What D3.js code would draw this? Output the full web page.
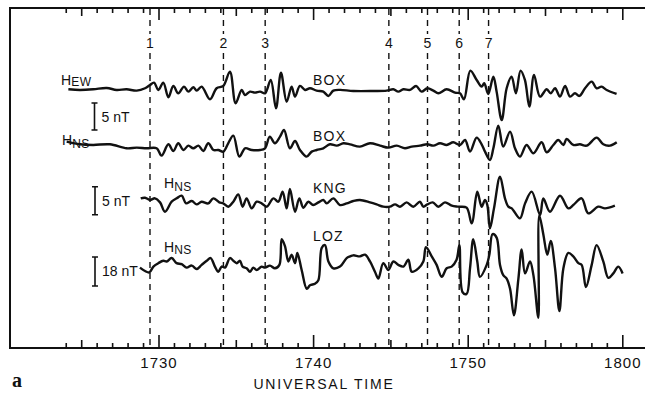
<!DOCTYPE html>
<html>
<head>
<meta charset="utf-8">
<script src="https://cdn.jsdelivr.net/npm/d3@7"></script>
<style>
  body { margin: 0; background: #fff; }
  svg { display: block; font-family: "Liberation Sans", Arial, sans-serif; }
  .trace { fill: none; stroke: #111; stroke-width: 2.4; stroke-linejoin: round; }
  .lbl { font-size: 14px; fill: #111; }
</style>
</head>
<body>
<div id="chart"></div>
<script>
// time in minutes after 17:00 UT, values in nT relative to each trace's baseline
var hewBoxT = [24.17,24.92,25.78,26.65,27.29,27.94,28.59,29.13,29.45,29.71,29.99,30.31,30.64,30.96,31.28,31.65,31.93,32.25,32.47,32.79,
  33.33,33.76,34.19,34.62,34.99,35.38,35.59,35.92,36.24,36.57,36.89,37.26,37.6,37.92,38.29,38.61,38.83,39.15,39.48,39.8,
  40.23,40.66,40.99,41.31,41.74,42.6,43.9,44.76,45.19,45.51,45.84,46.27,46.66,47.02,47.39,47.78,48.1,48.64,49.18,49.5,
  49.76,50.17,50.58,50.9,51.07,51.33,51.66,51.87,52.2,52.52,52.84,53.12,53.42,53.7,53.99,54.29,54.68,55.11,55.37,55.65,
  55.97,56.3,56.62,56.94,57.22,57.59,58.02,58.34,58.66,58.99,59.63];
var hewBoxV = [0,-0.12,0,0.25,-0.12,0,-0.25,0.19,0.8,1.23,-0.12,1.23,-1.48,0.62,-0.74,0.49,-0.43,0.37,-0.25,0.49,
  -1.85,0.19,0.62,3.27,-2.59,-0.12,-1.05,-0.43,-0.62,-0.43,-0.74,1.73,-3.52,3.09,-2.28,0.49,-1.36,0.62,-0.12,0.19,
  -0.25,-0.43,-1.23,-0.25,-0.1,-0.31,-0.31,-0.25,0,-0.43,0,-0.12,0.62,-0.43,0.19,-0.25,-0.74,0,-0.62,-0.74,
  -1.85,3.46,1.73,0.49,1.11,-0.86,2.35,-0.43,-5.68,0.19,2.35,-0.74,3.46,1.73,-3.21,2.65,-1.36,0,-0.74,0.19,
  -1.36,0.62,-1.36,-0.74,-1.23,0.19,1.42,0.19,0.49,-0.12,-0.86];

var hnsBoxT = [24.06,24.92,25.78,26.86,27.94,28.59,29.23,29.88,30.2,30.64,30.96,31.28,31.61,31.93,32.25,32.58,32.9,33.22,33.55,33.87,
  34.19,34.51,34.84,35.23,35.6,36.03,36.57,36.89,37.2,37.53,37.86,38.12,38.5,38.83,39.15,39.58,39.91,40.23,40.66,41.09,
  41.53,41.96,42.39,43.03,43.68,44.33,44.87,45.41,45.94,46.38,46.91,47.39,47.78,48.21,48.64,49.07,49.5,49.83,50.15,50.58,
  50.9,51.12,51.44,51.66,51.98,52.3,52.74,53.06,53.38,53.81,54.25,54.78,55.11,55.54,55.86,56.19,56.4,56.83,57.26,57.7,
  58.34,58.77,59.21,59.64];
var hnsBoxV = [1.23,0.74,0.62,0.74,0,0.12,0,0,-1.36,0.74,-0.49,0.93,-0.31,0.49,0,0.49,-0.49,0.93,-0.31,-0.31,
  -0.62,0.93,2.35,-1.54,0,-0.31,-0.31,0,2.16,0.93,2.16,3.4,0,1.36,-0.31,-1.54,-0.62,-0.31,0,0.74,
  0.49,0.93,0.74,0.31,0.93,0.49,0.12,0.49,0,0.31,0.49,0.74,0.49,0.93,0.62,1.11,0.62,1.54,-0.62,1.98,
  0.74,-0.62,-2.16,0,4.2,0.31,3.09,0,-1.54,0.62,-0.93,1.11,-0.74,0.62,1.54,0.62,1.73,0.62,0.74,0.49,
  1.98,0.74,0.49,1.11];

var hnsKngT = [28.85,29.13,29.45,29.77,30.1,30.42,30.85,31.18,31.5,31.78,32.15,32.47,32.79,33.22,33.55,33.93,34.19,34.51,34.84,35.16,
  35.44,35.7,36.03,36.35,36.67,37,37.43,37.75,38.03,38.29,38.5,38.83,39.11,39.37,39.69,40.01,40.34,40.66,40.88,41.31,
  41.74,42.17,42.6,43.03,43.68,44.11,44.54,44.97,45.3,45.62,46.05,46.48,46.91,47.13,47.39,47.74,48.1,48.53,48.97,49.4,
  49.93,50.26,50.62,50.9,51.12,51.27,51.44,51.7,52.09,52.41,52.63,52.85,53.38,53.71,54.14,54.68,54.89,55.32,55.97,56.51,
  56.83,57.37,57.8,58.45,58.88,59.52];
var hnsKngV = [0.6,0.71,0.3,0.6,-0.12,-1.79,0,0.6,1.07,-0.3,0.12,-0.48,0,-0.3,0.6,-0.12,-0.3,-0.89,0,1.31,
  -0.89,0.6,-1.19,0,-0.3,-0.89,0.6,0,1.79,-1.19,2.26,-1.79,0.6,-1.07,0,-0.6,-0.12,0.3,-0.3,0.6,
  -0.6,-0.3,0.12,0.3,-0.12,-0.48,-0.89,-0.89,-0.48,-0.89,-0.12,-0.89,0,-0.89,-0.48,-0.12,-0.89,-0.12,-0.71,-0.89,
  -1.07,-3.87,1.79,-0.89,0.3,-0.6,-4.76,-1.19,4.46,0.6,-0.89,-1.19,-2.98,-0.3,1.79,-2.38,0.6,-1.79,1.07,-1.19,
  -0.6,0.6,-2.08,-0.89,-1.19,-0.71];

var hnsLozT = [28.8,29.13,29.41,29.67,29.99,30.31,30.53,30.85,31.17,31.5,31.82,32.15,32.47,32.79,33.12,33.37,33.65,33.87,34.09,34.3,
  34.62,34.84,35.06,35.27,35.44,35.7,35.92,36.13,36.35,36.67,36.89,37.21,37.53,37.82,37.97,38.18,38.4,38.61,38.83,38.98,
  39.26,39.59,39.8,40.12,40.34,40.56,40.77,40.99,41.31,41.74,42.17,42.39,42.6,43.03,43.36,43.68,44,44.22,44.54,44.87,
  45.19,45.51,45.84,46.16,46.38,46.81,47.13,47.3,47.67,47.99,48.32,48.64,48.96,49.28,49.46,49.67,49.93,50.15,50.36,50.62,
  50.79,51.23,51.4,51.61,51.87,52.09,52.3,52.52,52.74,52.99,53.28,53.49,53.71,54.03,54.25,54.57,54.63,54.89,55.15,55.37,
  55.65,55.93,56.19,56.51,56.83,57.16,57.37,57.65,58.02,58.34,58.77,59.1,59.42,59.74,60.02];
var hnsLozV = [0.42,-1.69,-2.54,1.06,3.18,4.66,4.24,6.36,3.18,2.54,0.42,1.69,-0.42,2.12,4.66,6.36,1.06,-2.12,1.06,0.42,
  6.36,4.66,3.18,4.66,1.06,0,-2.12,0.42,-1.06,1.06,0.42,1.69,0,2.12,18.01,13.77,4.24,8.47,3.18,9.53,
  -1.06,-12.71,-10.59,-9.53,-7.42,12.71,14.41,4.24,0,1.06,6.36,7.42,8.05,7.42,8.47,4.24,-2.12,-6.36,3.18,-1.06,
  4.24,2.12,1.06,5.3,-2.12,0,4.24,13.14,7.42,2.12,-5.3,0,1.06,5.3,14.41,-14.83,-15.89,0,18.01,4.24,
  -5.3,2.12,8.47,21.19,19.07,2.12,-4.24,-6.36,-12.71,-29.24,-6.36,11.65,-3.18,4.24,-4.24,-30.72,32.84,21.19,8.47,16.95,
  0,-26.48,0,9.53,7.42,3.18,2.12,-11.65,2.12,14.41,4.24,-5.93,-3.18,1.06,-3.18];

// marked events (minutes after 17:00)
var eventTimes = [29.45, 34.2, 36.9, 44.9, 47.4, 49.45, 51.35];
var eventLabels = ["1", "2", "3", "4", "5", "6", "7"];
var majorTicks = [30, 40, 50, 60];

var width = 645, height = 394;
var frame = {left: 10, top: 8, bottom: 348, right: 652};

var svg = d3.select("#chart").append("svg")
    .attr("width", width)
    .attr("height", height);

svg.append("rect").attr("width", width).attr("height", height).attr("fill", "#fff");

var x = d3.scaleLinear()
    .domain([30, 60])
    .range([158.5, 622.3]);

var fmt = function(m) {
  var h = 17 + Math.floor(m / 60), mm = m % 60;
  return "" + h + (mm < 10 ? "0" : "") + mm;
};

// one y scale per trace (5 nT bars for BOX and KNG, 18 nT for LOZ)
var yHew = d3.scaleLinear().domain([0, 5]).range([89.3, 62.3]);
var yHnsBox = d3.scaleLinear().domain([0, 5]).range([148.3, 121.3]);
var yKng = d3.scaleLinear().domain([0, 5]).range([201.7, 173.7]);
var yLoz = d3.scaleLinear().domain([0, 18]).range([268.3, 239.3]);

// frame
svg.append("path")
    .attr("d", "M" + frame.right + "," + frame.top + "H" + frame.left + "V" + frame.bottom + "H" + frame.right)
    .attr("fill", "none").attr("stroke", "#111").attr("stroke-width", 2);

var minutes = d3.range(24, 61);
function tickAxis(axisFn, y, vals, size, labels) {
  var ax = axisFn(x).tickValues(vals).tickSizeInner(size).tickSizeOuter(0)
      .tickPadding(9).tickFormat(labels ? fmt : "");
  var g = svg.append("g").attr("transform", "translate(0," + y + ")").call(ax);
  g.select(".domain").remove();
  g.selectAll("line").attr("stroke", "#111").attr("stroke-width", 1.6);
  g.selectAll("text").attr("font-size", 15).attr("letter-spacing", 1)
      .attr("font-family", "Liberation Sans, Arial, sans-serif").attr("fill", "#111");
  return g;
}
var minor = minutes.filter(function(m) { return m % 5 !== 0; });
var mid = minutes.filter(function(m) { return m % 5 === 0 && m % 10 !== 0; });
tickAxis(d3.axisBottom, frame.bottom, minor, -5, false);
tickAxis(d3.axisBottom, frame.bottom, mid, -8, false);
tickAxis(d3.axisBottom, frame.bottom, majorTicks, -13, true);
tickAxis(d3.axisBottom, frame.top, minor, 5, false);
tickAxis(d3.axisBottom, frame.top, mid, 8, false);
tickAxis(d3.axisBottom, frame.top, majorTicks, 12, false);

// event lines
eventTimes.forEach(function(t, i) {
  var ex = x(t);
  [[frame.top + 1, 34], [53, frame.bottom - 2]].forEach(function(s) {
    svg.append("line")
        .attr("x1", ex).attr("x2", ex).attr("y1", s[0]).attr("y2", s[1])
        .attr("stroke", "#111").attr("stroke-width", 1.4).attr("stroke-dasharray", "6,5");
  });
  svg.append("text").attr("class", "lbl").attr("x", ex).attr("y", 48)
      .attr("text-anchor", "middle").attr("font-size", 13).text(eventLabels[i]);
});

// traces
var traces = [
  {t: hewBoxT, v: hewBoxV, y: yHew},
  {t: hnsBoxT, v: hnsBoxV, y: yHnsBox},
  {t: hnsKngT, v: hnsKngV, y: yKng},
  {t: hnsLozT, v: hnsLozV, y: yLoz}
];
traces.forEach(function(tr) {
  var pts = d3.zip(tr.t, tr.v);
  var line = d3.line()
      .x(function(d) { return x(d[0]); })
      .y(function(d) { return tr.y(d[1]); })
      .curve(d3.curveCatmullRom.alpha(0.5));
  svg.append("path").attr("class", "trace").attr("d", line(pts));
});

// component labels
function compLabel(px, py, sub, dy) {
  var t = svg.append("text").attr("class", "lbl").attr("x", px).attr("y", py).attr("font-size", 15);
  t.append("tspan").text("H");
  t.append("tspan").attr("font-size", 12).attr("dy", dy).attr("letter-spacing", 0.5).text(sub);
}
compLabel(61, 85, "EW", 1);
compLabel(62, 145, "NS", 3);
compLabel(164, 188, "NS", 3);
compLabel(164, 251.5, "NS", 2);

// station labels
[["BOX", 85], ["BOX", 141], ["KNG", 193], ["LOZ", 240.5]].forEach(function(s) {
  svg.append("text").attr("class", "lbl").attr("x", 313).attr("y", s[1])
      .attr("letter-spacing", 1.2).text(s[0]);
});

// scale bars
function scaleBar(scale, vLo, vHi, bx, label, ty) {
  var y0 = scale(vLo), y1 = scale(vHi);
  svg.append("path")
      .attr("d", "M" + (bx - 3) + "," + y0 + "H" + (bx + 3) + "M" + bx + "," + y0 + "V" + y1 +
                 "M" + (bx - 3) + "," + y1 + "H" + (bx + 3))
      .attr("stroke", "#111").attr("stroke-width", 1.6).attr("fill", "none");
  svg.append("text").attr("class", "lbl").attr("x", bx + 7).attr("y", ty).text(label);
}
scaleBar(yHnsBox, 3.39, 8.39, 94.5, "5 nT", 121.5);
scaleBar(yKng, -2.34, 2.66, 95, "5 nT", 205.5);
scaleBar(yLoz, -11.03, 6.97, 95, "18 nT", 276);

// axis title and panel letter
svg.append("text").attr("class", "lbl").attr("x", 324).attr("y", 389)
    .attr("text-anchor", "middle").attr("letter-spacing", 1.8).attr("font-size", 13.5)
    .text("UNIVERSAL  TIME");
svg.append("text").attr("x", 12).attr("y", 387)
    .attr("font-family", "Liberation Serif, serif").attr("font-weight", "bold")
    .attr("font-size", 20).attr("fill", "#111").text("a");
</script>
</body>
</html>
